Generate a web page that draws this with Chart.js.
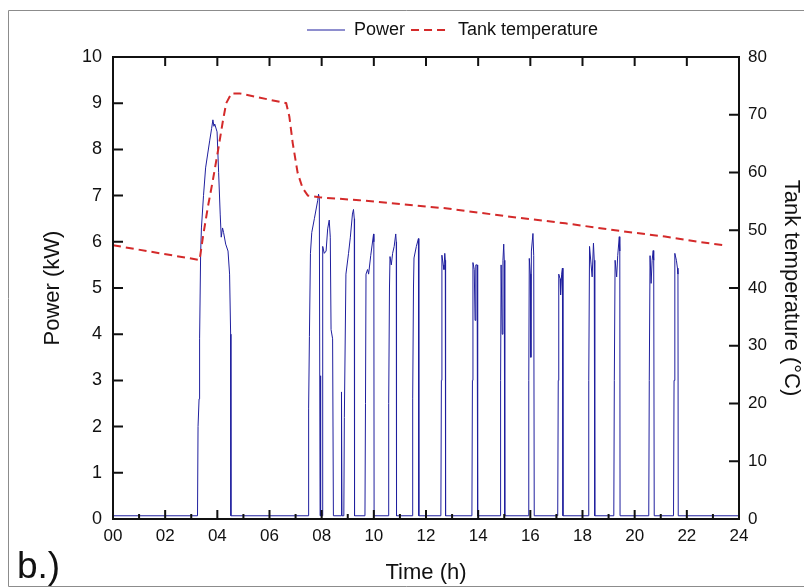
<!DOCTYPE html>
<html>
<head>
<meta charset="utf-8">
<title>Power and tank temperature</title>
<script src="https://cdn.jsdelivr.net/npm/chart.js@4.4.1/dist/chart.umd.min.js"></script>
<style>
  html, body { margin: 0; padding: 0; background: #fff; }
  #wrap { width: 804px; height: 588px; position: relative; }
</style>
</head>
<body>
<div id="wrap"><canvas id="powerChart"></canvas></div>
<script>
// time of day (h) and heater power (kW), one row per heating cycle
var powerTime = [
  0,
  3.24, 3.26, 3.30, 3.32, 3.36, 3.39, 3.47, 3.55, 3.63, 3.71, 3.78, 3.83, 3.87, 3.90, 3.99, 4.05, 4.11, 4.15, 4.20, 4.24, 4.32, 4.41, 4.47, 4.51, 4.52,
  7.48, 7.50, 7.53, 7.57, 7.62, 7.72, 7.85, 7.88, 7.91, 7.94, 7.95, 7.96, 7.97, 8.02, 8.04, 8.10, 8.17, 8.23, 8.29, 8.33, 8.36, 8.42, 8.45,
  8.75, 8.76, 8.78,
  8.85, 8.87, 8.93, 9.03, 9.10, 9.18, 9.22, 9.25, 9.26,
  9.66, 9.68, 9.70, 9.76, 9.80, 9.88, 9.99, 10.00, 10.01,
  10.55, 10.57, 10.60, 10.62, 10.67, 10.72, 10.78, 10.84, 10.86, 10.87,
  11.47, 11.49, 11.52, 11.54, 11.63, 11.71, 11.72, 11.73,
  12.57, 12.59, 12.61, 12.66, 12.69, 12.72, 12.74, 12.75,
  13.76, 13.78, 13.80, 13.85, 13.88, 13.91, 13.96, 13.98,
  14.84, 14.86, 14.88, 14.92, 14.95, 14.98, 15.00, 15.02,
  15.92, 15.94, 15.96, 16.00, 16.02, 16.04, 16.10, 16.13, 16.15,
  17.05, 17.07, 17.09, 17.14, 17.16, 17.20, 17.23, 17.25,
  18.22, 18.24, 18.27, 18.33, 18.37, 18.42, 18.45, 18.47,
  19.20, 19.22, 19.25, 19.31, 19.35, 19.41, 19.43, 19.44,
  20.54, 20.56, 20.59, 20.63, 20.67, 20.71, 20.73, 20.75,
  21.49, 21.51, 21.54, 21.60, 21.64, 21.66, 21.67,
  24
];
var powerKW = [
  0.07,
  0.07, 2.0, 2.6, 3.9, 5.75, 6.3, 7.0, 7.6, 7.9, 8.2, 8.45, 8.64, 8.5, 8.55, 8.38, 7.5, 6.6, 6.1, 6.3, 6.2, 5.95, 5.8, 5.3, 4.0, 0.07,
  0.07, 2.4, 3.95, 5.75, 6.2, 6.5, 6.9, 7.03, 6.95, 0.07, 0.07, 3.1, 0.07, 0.07, 5.9, 5.75, 5.8, 6.28, 6.47, 6.1, 4.1, 3.9, 0.07,
  0.07, 2.75, 0.07,
  0.07, 2.2, 5.3, 5.75, 6.1, 6.6, 6.7, 6.5, 0.07,
  0.07, 2.5, 5.3, 5.4, 5.3, 5.7, 6.17, 6.0, 0.07,
  0.07, 2.5, 5.0, 5.68, 5.5, 5.75, 5.9, 6.17, 6.0, 0.07,
  0.07, 2.6, 5.0, 5.65, 5.9, 6.07, 5.8, 0.07,
  0.07, 3.0, 5.71, 5.5, 5.4, 5.75, 5.6, 0.07,
  0.07, 3.0, 5.55, 5.4, 4.3, 5.5, 5.5, 0.07,
  0.07, 3.0, 5.5, 4.0, 5.6, 5.95, 5.6, 0.07,
  0.07, 3.0, 5.64, 5.3, 3.5, 5.8, 6.18, 5.7, 0.07,
  0.07, 3.0, 5.3, 5.2, 4.85, 5.3, 5.43, 0.07,
  0.07, 3.0, 5.9, 5.5, 5.24, 5.97, 5.6, 0.07,
  0.07, 3.0, 5.6, 5.24, 5.7, 6.11, 5.8, 0.07,
  0.07, 3.0, 5.7, 5.1, 5.6, 5.81, 5.6, 0.07,
  0.07, 3.0, 5.75, 5.6, 5.43, 5.3, 0.07,
  0.07
];

// tank temperature (°C)
var tempTime = [0, 3.32, 3.45, 3.64, 3.83, 4.03, 4.22, 4.34, 4.54, 4.85, 6.64, 6.76, 6.89, 7.08, 7.27, 7.47, 7.91, 9.44, 10.2, 12.75, 15.3, 17.34, 19.25, 21.16, 22.43, 23.45];
var tempC = [47.4, 44.85, 48.9, 54.1, 58.7, 63.9, 69.1, 72.0, 73.7, 73.7, 72.0, 69.7, 65.1, 59.9, 57.3, 56.0, 55.7, 55.2, 54.9, 53.8, 52.3, 51.2, 50.0, 48.9, 48.0, 47.4];

var hourLabels = ['00', '02', '04', '06', '08', '10', '12', '14', '16', '18', '20', '22', '24'];

var FONT = '"Liberation Sans", Arial, sans-serif';
var INK = '#111';

function toPoints(xs, ys) {
  return xs.map(function(x, i) { return { x: x, y: ys[i] }; });
}

// inward ticks, plot box, outer frame and panel letter
var frame = {
  id: 'frame',
  afterLayout: function(chart) {
    var lg = chart.legend;
    lg.left = 301; lg.right = 804; lg.top = 15; lg.bottom = 49;
  },
  afterDatasetsDraw: function(chart) {
    var ctx = chart.ctx, a = chart.chartArea;
    var x = chart.scales.x, y = chart.scales.y, y1 = chart.scales.y1;
    ctx.save();
    ctx.strokeStyle = INK;
    ctx.lineWidth = 2;
    ctx.strokeRect(a.left, a.top, a.right - a.left, a.bottom - a.top);
    ctx.beginPath();
    for (var h = 1; h < 24; h++) {
      var px = x.getPixelForValue(h);
      var len = h % 2 ? 5 : 9;
      ctx.moveTo(px, a.bottom); ctx.lineTo(px, a.bottom - len);
      if (h % 2 === 0) { ctx.moveTo(px, a.top); ctx.lineTo(px, a.top + 9); }
    }
    for (var k = 1; k < 10; k++) {
      var py = y.getPixelForValue(k);
      ctx.moveTo(a.left, py); ctx.lineTo(a.left + 10, py);
    }
    for (var t = 10; t < 80; t += 10) {
      var pt = y1.getPixelForValue(t);
      ctx.moveTo(a.right, pt); ctx.lineTo(a.right - 10, pt);
    }
    ctx.stroke();

    ctx.strokeStyle = '#8c8c8c';
    ctx.lineWidth = 1;
    ctx.beginPath();
    ctx.moveTo(804, 10.5); ctx.lineTo(8.5, 10.5); ctx.lineTo(8.5, 586.5); ctx.lineTo(804, 586.5);
    ctx.stroke();

    ctx.fillStyle = INK;
    ctx.font = '37px ' + FONT;
    ctx.textBaseline = 'alphabetic';
    ctx.fillText('b.)', 17, 578);
    ctx.restore();
  }
};

var ctx = document.getElementById('powerChart').getContext('2d');
new Chart(ctx, {
  type: 'line',
  data: {
    datasets: [{
      label: 'Power',
      data: toPoints(powerTime, powerKW),
      yAxisID: 'y',
      borderColor: '#1f1f9e',
      borderWidth: 1,
      pointRadius: 0,
      tension: 0,
      order: 1
    }, {
      label: 'Tank temperature',
      data: toPoints(tempTime, tempC),
      yAxisID: 'y1',
      borderColor: '#d42a2a',
      borderWidth: 2,
      borderDash: [8, 5],
      pointRadius: 0,
      tension: 0,
      order: 0
    }]
  },
  options: {
    responsive: true,
    maintainAspectRatio: false,
    animation: false,
    layout: { padding: { top: 23, left: 0, right: 0, bottom: 0 } },
    plugins: {
      tooltip: { enabled: false },
      legend: {
        position: 'top',
        align: 'start',
        labels: {
          usePointStyle: true,
          pointStyle: 'line',
          pointStyleWidth: 38,
          padding: 6,
          color: INK,
          font: { size: 18, family: FONT },
          sort: function(a, b) { return a.datasetIndex - b.datasetIndex; },
          generateLabels: function(chart) {
            var items = Chart.defaults.plugins.legend.labels.generateLabels(chart);
            items.forEach(function(it) {
              var ds = chart.data.datasets[it.datasetIndex];
              it.lineDash = ds.borderDash || [];
              it.lineWidth = ds.borderWidth;
              it.strokeStyle = ds.borderColor;
            });
            return items;
          }
        }
      }
    },
    scales: {
      x: {
        type: 'linear',
        position: 'bottom',
        min: 0,
        max: 24,
        afterFit: function(s) { s.height = 69; },
        grid: { display: false, drawTicks: false },
        border: { display: false },
        ticks: {
          stepSize: 2,
          padding: 7,
          maxRotation: 0,
          autoSkip: false,
          color: INK,
          font: { size: 17, family: FONT },
          callback: function(v) { return hourLabels[v / 2]; }
        },
        title: { display: true, text: 'Time (h)', color: INK, font: { size: 22, family: FONT }, padding: { top: 0, bottom: 2 } }
      },
      y: {
        position: 'left',
        min: 0,
        max: 10,
        afterFit: function(s) { s.width = 113; },
        grid: { display: false, drawTicks: false },
        border: { display: false },
        ticks: { stepSize: 1, padding: 11, color: INK, font: { size: 18, family: FONT } },
        title: { display: true, text: 'Power (kW)', color: INK, font: { size: 22, family: FONT }, padding: { top: 40, bottom: 0 } }
      },
      y1: {
        position: 'right',
        min: 0,
        max: 80,
        afterFit: function(s) { s.width = 65; },
        grid: { display: false, drawTicks: false },
        border: { display: false },
        ticks: { stepSize: 10, padding: 9, color: INK, font: { size: 17, family: FONT } },
        title: { display: true, text: 'Tank temperature (°C)', color: INK, font: { size: 22, family: FONT }, padding: { top: 0, bottom: 0 } }
      }
    }
  },
  plugins: [frame]
});
</script>
</body>
</html>
